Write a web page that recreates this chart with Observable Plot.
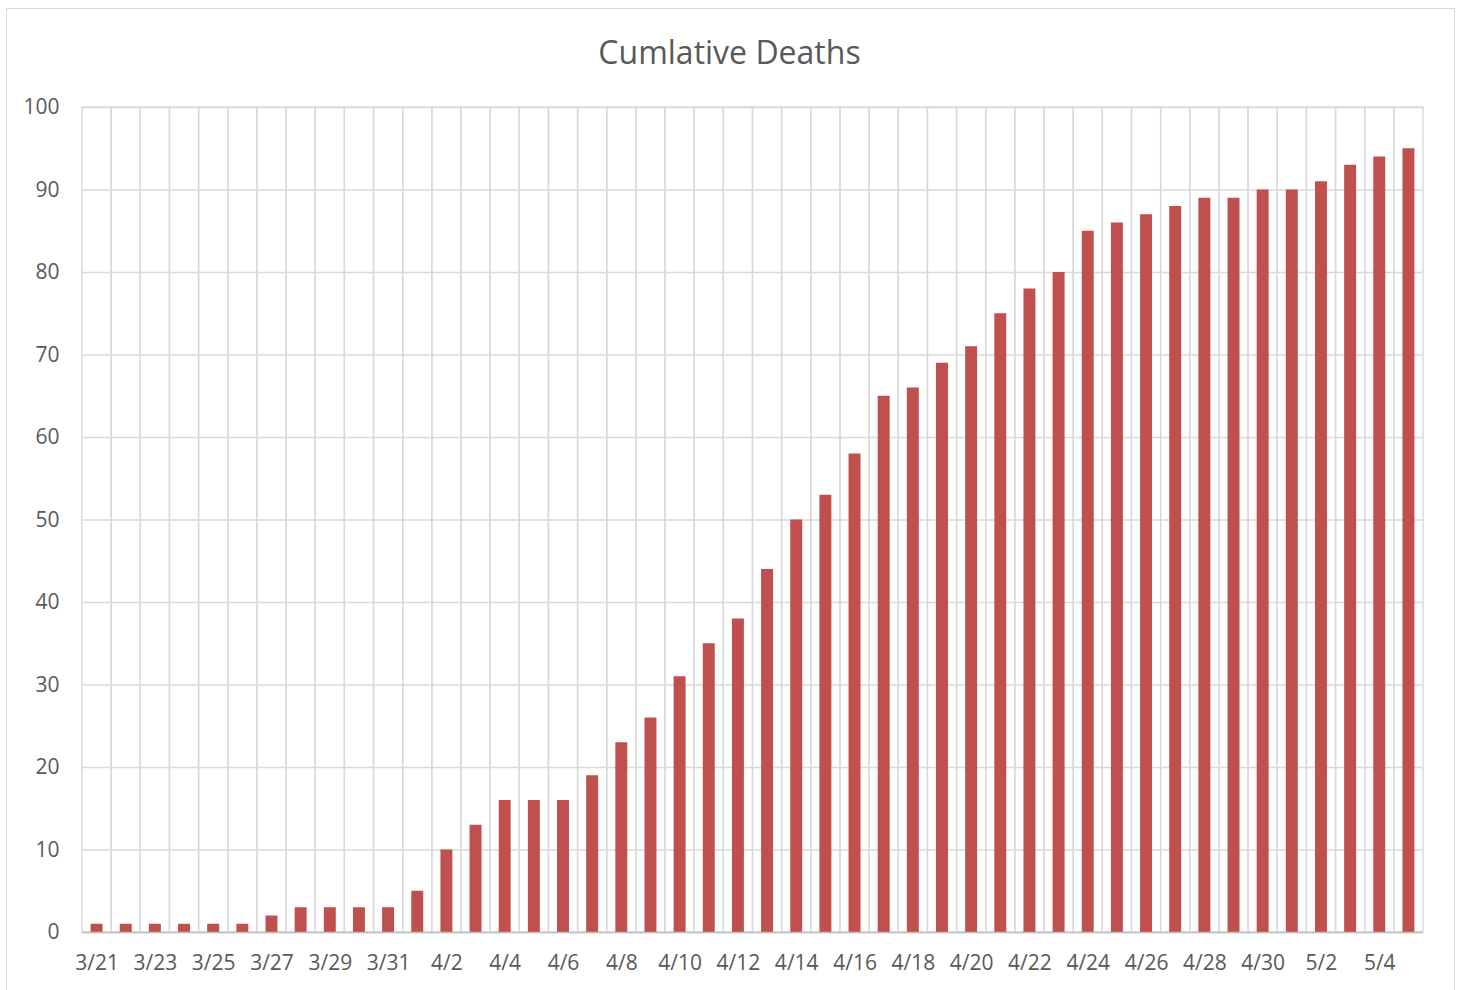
<!DOCTYPE html>
<html><head><meta charset="utf-8">
<script src="https://cdn.jsdelivr.net/npm/d3@7"></script>
<script src="https://cdn.jsdelivr.net/npm/@observablehq/plot@0.6"></script>
<style>
body{margin:0;background:#fff;font-family:"Open Sans",sans-serif;}
#frame{position:absolute;left:6px;top:8px;width:1449px;height:990px;border:1.5px solid #d9d9d9;box-sizing:border-box;}
#title{position:absolute;left:0;top:32px;width:1459px;text-align:center;font-size:32px;line-height:40px;color:#595959;}
#chart{position:absolute;left:0;top:80px;}
</style></head><body>
<div id="frame"></div>
<div id="title">Cumlative Deaths</div>
<div id="chart"></div>
<script>
const dates = ["3/21","3/22","3/23","3/24","3/25","3/26","3/27","3/28","3/29","3/30","3/31",
  "4/1","4/2","4/3","4/4","4/5","4/6","4/7","4/8","4/9","4/10","4/11","4/12","4/13","4/14","4/15",
  "4/16","4/17","4/18","4/19","4/20","4/21","4/22","4/23","4/24","4/25","4/26","4/27","4/28","4/29","4/30",
  "5/1","5/2","5/3","5/4","5/5"];
const deaths = [1,1,1,1,1,1,2,3,3,3,3,
  5,10,13,16,16,16,19,23,26,31,35,38,44,50,53,
  58,65,66,69,71,75,78,80,85,86,87,88,89,89,90,
  90,91,93,94,95];
const xLabels = ["3/21","3/23","3/25","3/27","3/29","3/31","4/2","4/4","4/6","4/8","4/10","4/12",
  "4/14","4/16","4/18","4/20","4/22","4/24","4/26","4/28","4/30","5/2","5/4"];
const yTicks = [0,10,20,30,40,50,60,70,80,90,100];

const data = dates.map((d,i)=>({date:d, value:deaths[i]}));
const chart = Plot.plot({
  width:1459, height:900,
  marginLeft:82, marginRight:36, marginTop:27, marginBottom:48,
  style:{fontFamily:"Open Sans", fontSize:"21px", color:"#595959", background:"transparent"},
  x:{type:"band", domain:dates, padding:0, round:false, label:null},
  y:{domain:[0,100], label:null},
  marks:[
    Plot.ruleY(yTicks, {stroke:"#d9d9d9", strokeWidth:1.4}),
    Plot.barY(dates, {x:d=>d, y1:0, y2:100, fill:"none", stroke:"#d9d9d9", strokeWidth:1.4}),
    Plot.barY(data, {x:"date", y:"value", fill:"#C0504D", insetLeft:8.6, insetRight:8.6}),
    Plot.ruleY([0], {stroke:"#bfbfbf", strokeWidth:1.5}),
    Plot.axisY({ticks:yTicks, tickSize:0, tickPadding:23, label:null}),
    Plot.axisX({ticks:xLabels, tickSize:0, tickPadding:23, label:null})
  ]
});
document.getElementById("chart").appendChild(chart);
</script>
</body></html>
